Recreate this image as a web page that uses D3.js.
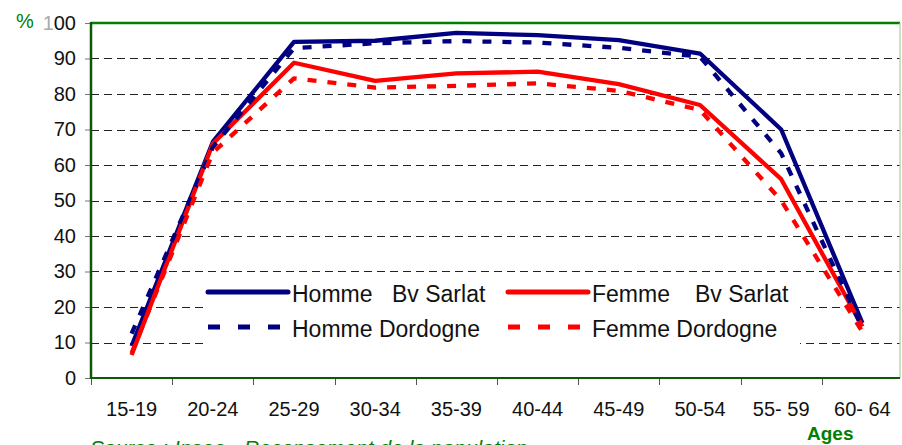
<!DOCTYPE html>
<html>
<head>
<meta charset="utf-8">
<script src="https://cdn.jsdelivr.net/npm/d3@7"></script>
<style>
  html, body { margin: 0; padding: 0; background: #fff; }
  svg { display: block; font-family: "Liberation Sans", Arial, sans-serif; }
</style>
</head>
<body>
<svg id="chart" width="902" height="445"></svg>
<script>
// Age groups
const categories = ["15-19", "20-24", "25-29", "30-34", "35-39", "40-44", "45-49", "50-54", "55- 59", "60- 64"];

// Activity rates (%) by age group
const hommeSarlat   = [9, 66.5, 94.7, 95, 97.2, 96.6, 95.2, 91.4, 70, 15.5];
const femmeSarlat   = [6.5, 66, 88.8, 83.7, 85.8, 86.3, 82.8, 76.9, 56, 14.5];
const hommeDordogne = [12.5, 65, 92.9, 94.3, 94.9, 94.5, 93, 90.5, 63.3, 14];
const femmeDordogne = [7, 63.5, 84.4, 81.8, 82.3, 83, 80.9, 75.5, 50, 13];

const yTicks = [0, 10, 20, 30, 40, 50, 60, 70, 80, 90, 100];

// Legend labels: [sex, area]
const seriesNames = [["Homme", "Bv Sarlat"], ["Femme", "Bv Sarlat"], ["Homme", "Dordogne"], ["Femme", "Dordogne"]];

const series = [
  { name: seriesNames[0], values: hommeSarlat,   color: "#000080", dash: null },
  { name: seriesNames[1], values: femmeSarlat,   color: "#ff0000", dash: null },
  { name: seriesNames[2], values: hommeDordogne, color: "#000080", dash: "9,11" },
  { name: seriesNames[3], values: femmeDordogne, color: "#ff0000", dash: "9,11" }
];

const svg = d3.select("#chart");
const plotLeft = 91, plotRight = 903, plotTop = 23, plotBottom = 378;

const x = d3.scaleBand().domain(categories).range([plotLeft, plotRight]);
const y = d3.scaleLinear().domain([0, 100]).range([plotBottom, plotTop]);

// Title (runs above the visible area)
svg.append("text")
  .attr("x", 380).attr("y", -4)
  .attr("text-anchor", "middle")
  .attr("font-size", 19).attr("font-weight", "bold")
  .attr("fill", "#008000")
  .text("Taux d'activité par sexe et par âge");

// Horizontal dashed grid
svg.append("g")
  .selectAll("line")
  .data(yTicks.filter(d => d > 0 && d < 100))
  .join("line")
  .attr("x1", plotLeft).attr("x2", 900)
  .attr("y1", d => Math.round(y(d)) + 0.5).attr("y2", d => Math.round(y(d)) + 0.5)
  .attr("stroke", "#222").attr("stroke-width", 1)
  .attr("stroke-dasharray", "8,5");

// Y axis (ticks and labels)
const yAxis = d3.axisLeft(y).tickValues(yTicks).tickSize(6).tickPadding(9)
  .tickFormat(d3.format("d"));
const gy = svg.append("g").attr("transform", `translate(${plotLeft},0)`).call(yAxis);
gy.select(".domain").remove();
gy.selectAll(".tick line").attr("stroke", "#777");
gy.selectAll(".tick text")
  .attr("font-size", 20).attr("fill", "#111")
  .attr("font-family", "'Liberation Sans', Arial, sans-serif");
// the leading "1" of 100 is printed in a lighter tone
gy.selectAll(".tick text").filter(d => d === 100)
  .text(null)
  .call(t => {
    t.append("tspan").attr("fill", "#aaa").text("1");
    t.append("tspan").text("00");
  });

// X axis (ticks at category boundaries, labels centred)
const xTickPos = categories.map(c => x(c));
svg.append("g")
  .selectAll("line")
  .data(xTickPos)
  .join("line")
  .attr("x1", d => Math.round(d) + 0.5).attr("x2", d => Math.round(d) + 0.5)
  .attr("y1", plotBottom).attr("y2", plotBottom + 7)
  .attr("stroke", "#555");
svg.append("g")
  .selectAll("text")
  .data(categories)
  .join("text")
  .attr("x", d => x(d) + x.bandwidth() / 2)
  .attr("y", 416)
  .attr("text-anchor", "middle")
  .attr("font-size", 20).attr("fill", "#111")
  .attr("xml:space", "preserve")
  .style("white-space", "pre")
  .text(d => d);

// Plot frame
svg.append("line").attr("x1", plotLeft).attr("x2", 900).attr("y1", plotTop).attr("y2", plotTop)
  .attr("stroke", "#008000").attr("stroke-width", 2.5);
svg.append("line").attr("x1", 900).attr("x2", 900).attr("y1", plotTop).attr("y2", plotBottom)
  .attr("stroke", "#9fd49f").attr("stroke-width", 1.2);
svg.append("line").attr("x1", plotLeft).attr("x2", 900).attr("y1", plotBottom).attr("y2", plotBottom)
  .attr("stroke", "#0a5a0a").attr("stroke-width", 2.2);
svg.append("line").attr("x1", plotLeft).attr("x2", plotLeft).attr("y1", plotTop - 1).attr("y2", plotBottom + 1)
  .attr("stroke", "#0a5a0a").attr("stroke-width", 2.5);

// Series lines
const line = d3.line()
  .x((d, i) => x(categories[i]) + x.bandwidth() / 2)
  .y(d => y(d));

svg.append("g")
  .selectAll("path")
  .data(series)
  .join("path")
  .attr("d", d => line(d.values))
  .attr("fill", "none")
  .attr("stroke", d => d.color)
  .attr("stroke-width", 4.3)
  .attr("stroke-linejoin", "round")
  .attr("stroke-dasharray", d => d.dash);

// Legend
const legend = svg.append("g");
legend.append("rect")
  .attr("x", 203).attr("y", 278).attr("width", 597).attr("height", 74)
  .attr("fill", "#fff");
const legendItems = [
  { s: series[0], lx: 208, ly: 292, x2: 392 },
  { s: series[1], lx: 508, ly: 292, x2: 695 },
  { s: series[2], lx: 208, ly: 327, x2: null },
  { s: series[3], lx: 508, ly: 327, x2: null }
];
legendItems.forEach(it => {
  legend.append("line")
    .attr("x1", it.lx).attr("x2", it.lx + 80)
    .attr("y1", it.ly).attr("y2", it.ly)
    .attr("stroke", it.s.color).attr("stroke-width", 5)
    .attr("stroke-linecap", it.s.dash ? "butt" : "round")
    .attr("stroke-dasharray", it.s.dash ? "12,18" : null);
  const t = legend.append("text")
    .attr("x", it.lx + 84).attr("y", it.ly + 10)
    .attr("font-size", 23).attr("fill", "#111");
  t.append("tspan").text(it.s.name[0]);
  if (it.x2 !== null) {
    t.append("tspan").attr("x", it.x2).text(it.s.name[1]);
  } else {
    t.append("tspan").text(" " + it.s.name[1]);
  }
});

// Axis captions
svg.append("text").attr("x", 16).attr("y", 28)
  .attr("font-size", 20).attr("fill", "#008000").text("%");
svg.append("text").attr("x", 807).attr("y", 440)
  .attr("font-size", 19).attr("font-weight", "bold").attr("fill", "#008000").text("Ages");

// Source note
svg.append("text").attr("x", 90).attr("y", 455)
  .attr("font-size", 21).attr("font-style", "italic").attr("fill", "#008000")
  .text("Source : Insee - Recensement de la population");
</script>
</body>
</html>
